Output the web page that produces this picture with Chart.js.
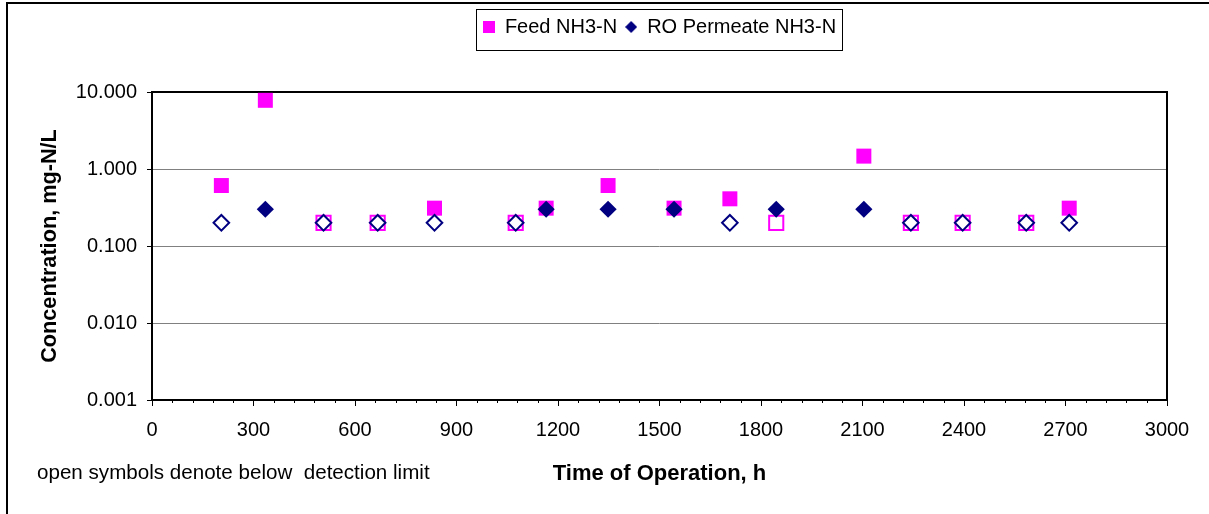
<!DOCTYPE html>
<html><head><meta charset="utf-8">
<script src="https://cdn.jsdelivr.net/npm/chart.js@4.4.1/dist/chart.umd.min.js"></script>
<style>html,body{margin:0;padding:0;background:#fff;} canvas{display:block;}</style>
</head><body>
<canvas id="c" width="1209" height="514"></canvas>
<script>
// ---- data ----
const hours = [205, 335, 507, 667, 835, 1075, 1165, 1348, 1543, 1708, 1845, 2104, 2243, 2396, 2584, 2711];
const feedNH3N = [0.61, 7.8, 0.2, 0.2, 0.31, 0.2, 0.31, 0.61, 0.31, 0.41, 0.2, 1.47, 0.2, 0.2, 0.2, 0.31];
const feedBelowDL = [0, 0, 1, 1, 0, 1, 0, 0, 0, 0, 1, 0, 1, 1, 1, 0];
const permeateNH3N = [0.2, 0.3, 0.2, 0.2, 0.2, 0.2, 0.3, 0.3, 0.3, 0.2, 0.3, 0.3, 0.2, 0.2, 0.2, 0.2];
const permeateBelowDL = [1, 0, 1, 1, 1, 1, 0, 0, 0, 1, 0, 0, 1, 1, 1, 1];
const seriesLabels = ['Feed NH3-N', 'RO Permeate NH3-N'];
const yTicks = [0.001, 0.01, 0.1, 1, 10];
const xMin = 0, xMax = 3000, xMajorStep = 300, xMinorStep = 60;
const xTitle = 'Time of Operation, h';
const yTitle = 'Concentration, mg-N/L';
const footnote = 'open symbols denote below  detection limit';

const FONT = '"Liberation Sans", Arial, Helvetica, sans-serif';
const PINK = '#FF00FF', NAVY = '#000080';
Chart.defaults.font.family = FONT;
Chart.defaults.color = '#000';

let topGap = 30;

function makeMarker(style, size, color) {
  const c = document.createElement('canvas');
  c.width = size; c.height = size;
  const g = c.getContext('2d');
  g.fillStyle = color;
  if (style === 'square') { g.fillRect(0, 0, size, size); }
  else { g.beginPath(); g.moveTo(size/2, 0); g.lineTo(size, size/2); g.lineTo(size/2, size); g.lineTo(0, size/2); g.closePath(); g.fill(); }
  return c;
}
const legendMarkers = [makeMarker('square', 12, PINK), makeMarker('diamond', 12, NAVY)];

function series(label, values, flags, color, style, rFilled, rOpen, order) {
  return {
    label, order,
    data: hours.map((h, i) => ({ x: h, y: values[i] })),
    showLine: false,
    pointStyle: style,
    pointRadius: ctx => flags[ctx.dataIndex] ? rOpen : rFilled,
    pointHoverRadius: ctx => flags[ctx.dataIndex] ? rOpen : rFilled,
    pointBackgroundColor: ctx => flags[ctx.dataIndex] ? '#fff' : color,
    pointBorderColor: color,
    pointBorderWidth: ctx => flags[ctx.dataIndex] ? 2 : 0,
    backgroundColor: color,
    borderColor: color
  };
}

const framePlugin = {
  id: 'frame',
  beforeDatasetsDraw(chart) {
    const { ctx, chartArea: a } = chart;
    ctx.save();
    ctx.strokeStyle = '#000';
    ctx.lineWidth = 2;
    ctx.strokeRect(a.left, a.top, a.right - a.left, a.bottom - a.top);
    ctx.restore();
  },
  afterDraw(chart) {
    const { ctx, chartArea: a } = chart;
    ctx.save();
    // outer figure frame (top and left edges)
    ctx.fillStyle = '#000';
    ctx.fillRect(6, 2, chart.width - 6, 2);
    ctx.fillRect(6, 2, 2, chart.height - 2);
    // minor x ticks
    const xs = chart.scales.x;
    ctx.strokeStyle = '#000';
    ctx.lineWidth = 1;
    for (let v = xMin; v <= xMax; v += xMinorStep) {
      if (v % xMajorStep === 0) continue;
      const px = Math.round(xs.getPixelForValue(v)) + 0.5;
      ctx.beginPath(); ctx.moveTo(px, a.bottom); ctx.lineTo(px, a.bottom + 3); ctx.stroke();
    }
    // legend border
    const hb = chart.legend.legendHitBoxes;
    if (hb && hb.length) {
      const first = hb[0], last = hb[hb.length - 1];
      const cy = first.top + first.height / 2;
      const l = first.left - 7, r = last.left + last.width + 6;
      ctx.strokeStyle = '#000';
      ctx.strokeRect(Math.round(l) + 0.5, Math.round(cy - 18) + 0.5, Math.round(r - l), 41);
    }
    // footnote
    ctx.fillStyle = '#000';
    ctx.font = '20.6px ' + FONT;
    ctx.textBaseline = 'middle';
    ctx.textAlign = 'left';
    ctx.fillText(footnote, 37, 473);
    ctx.restore();
  }
};

const chart = new Chart(document.getElementById('c'), {
  type: 'scatter',
  data: {
    datasets: [
      series(seriesLabels[0], feedNH3N, feedBelowDL, PINK, 'rect', 10.6, 10, 2),
      series(seriesLabels[1], permeateNH3N, permeateBelowDL, NAVY, 'rectRot', 8.6, 7.8, 1)
    ]
  },
  options: {
    responsive: false,
    animation: false,
    events: [],
    devicePixelRatio: 1,
    layout: { padding: { top: 9, right: 42, bottom: 0, left: 0 } },
    plugins: {
      tooltip: { enabled: false },
      legend: {
        position: 'top',
        fullSize: false,
        align: 'center',
        labels: {
          usePointStyle: true,
          boxWidth: 12, boxHeight: 12,
          padding: 8,
          font: { size: 20, family: FONT },
          color: '#000',
          sort: (a, b) => a.datasetIndex - b.datasetIndex,
          generateLabels: ch => Chart.defaults.plugins.legend.labels.generateLabels(ch).map(it => {
            it.pointStyle = legendMarkers[it.datasetIndex];
            it.lineWidth = 0;
            return it;
          })
        }
      }
    },
    scales: {
      x: {
        type: 'linear', position: 'bottom', min: xMin, max: xMax,
        afterFit: s => { s.height = 114; },
        ticks: { stepSize: xMajorStep, autoSkip: false, maxRotation: 0, padding: 12,
                 font: { size: 20 }, color: '#000', callback: v => String(v) },
        grid: { drawOnChartArea: false, tickLength: 6, tickColor: '#000', tickWidth: 1 },
        border: { display: false },
        title: { display: true, text: xTitle, color: '#000',
                 font: { size: 22, weight: 'bold' }, padding: { top: 0, bottom: 27 } }
      },
      xTop: {
        type: 'linear', position: 'top', display: true,
        afterFit: s => { s.height = topGap; },
        ticks: { display: false },
        grid: { display: false, drawTicks: false },
        border: { display: false }
      },
      y: {
        type: 'logarithmic', min: yTicks[0], max: yTicks[yTicks.length - 1],
        afterFit: s => { s.width = 152; },
        afterBuildTicks: s => { s.ticks = yTicks.map(v => ({ value: v })); },
        ticks: { autoSkip: false, padding: 10, font: { size: 20 }, color: '#000',
                 callback: v => Number(v).toFixed(3) },
        grid: { color: '#808080', lineWidth: 1, tickLength: 5, tickColor: '#000' },
        border: { display: false },
        title: { display: true, text: yTitle, color: '#000',
                 font: { size: 21.7, weight: 'bold' }, padding: { top: 37, bottom: 0 } }
      }
    }
  },
  plugins: [framePlugin]
});

const diff = 92 - chart.chartArea.top;
if (diff !== 0) { topGap += diff; chart.update(); }
</script>
</body></html>
